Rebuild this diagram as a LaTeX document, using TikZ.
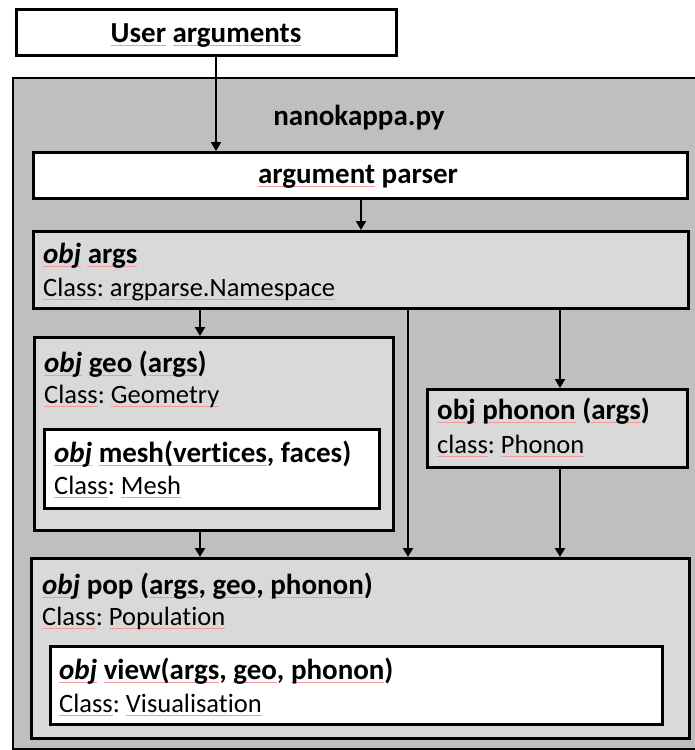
\documentclass[tikz,border=0pt]{standalone}
\usepackage{fontspec}
\setmainfont{Carlito}[Ligatures=NoCommon]
\usetikzlibrary{arrows.meta}
\frenchspacing
\definecolor{outergray}{HTML}{BFBFBF}
\definecolor{innergray}{HTML}{D9D9D9}
\definecolor{squig}{HTML}{F29A9A}
\tikzset{
  box/.style={draw=black, line width=2.8pt, inner sep=0pt, anchor=north west},
  whitebox/.style={box, fill=white},
  graybox/.style={box, fill=innergray},
  title/.style={anchor=base west, inner sep=0pt, font=\fontsize{29}{34}\selectfont\bfseries},
  ctitle/.style={title, anchor=base},
  classline/.style={anchor=base west, inner sep=0pt, font=\fontsize{26.5}{31}\selectfont},
  flow/.style={draw=black, line width=2.8pt, -{Triangle[length=9pt,width=10pt]}},
}
% thin proofing underline beneath a word
\newsavebox{\spellbox}
\newcommand{\spellmark}[1]{\sbox\spellbox{#1}\rlap{\color{squig}\rule[-4pt]{\wd\spellbox}{0.8pt}}\usebox\spellbox}
\newcommand{\ob}{\spellmark{\textit{obj}}}
\begin{document}
\begin{tikzpicture}[x=1pt, y=-1pt]
  \useasboundingbox (0,0) rectangle (695,750);

  % external input
  \node[whitebox, minimum width=380pt, minimum height=46pt] (ua) at (15,8) {};
  \node[ctitle] (uatext) at (206,42) {\spellmark{User} \spellmark{arguments}};

  % script frame
  \node[box, fill=outergray, line width=2.2pt, minimum width=700pt, minimum height=671pt] (frame) at (12,77) {};
  \node[ctitle] (frametext) at (359,125) {nanokappa.py};

  % argument parser
  \node[whitebox, minimum width=654pt, minimum height=46pt] (ap) at (32,151) {};
  \node[ctitle] (aptext) at (358,183) {\spellmark{argument} parser};

  % args object
  \node[graybox, minimum width=655pt, minimum height=77pt] (args) at (32,230) {};
  \node[title] (argst) at (43,263) {\ob{} \spellmark{args}};
  \node[classline] (argsc) at (43,296) {\spellmark{Class}: \spellmark{argparse.Namespace}};

  % geometry object with its mesh
  \node[graybox, minimum width=359pt, minimum height=193pt] (geo) at (33,336) {};
  \node[title] (geot) at (44,372) {\ob{} \spellmark{geo} (\spellmark{args})};
  \node[classline] (geoc) at (44,403) {\spellmark{Class}: \spellmark{Geometry}};
  \node[whitebox, minimum width=335pt, minimum height=79pt] (mesh) at (43,428) {};
  \node[title] (mesht) at (54,462) {\ob{} \spellmark{mesh(vertices}, faces)};
  \node[classline] (meshc) at (54,494) {\spellmark{Class}: \spellmark{Mesh}};

  % phonon object
  \node[graybox, minimum width=260pt, minimum height=78pt] (phon) at (426,388) {};
  \node[title] (phont) at (437,419) {\spellmark{obj} \spellmark{phonon} (\spellmark{args})};
  \node[classline] (phonc) at (437,453) {\spellmark{class}: \spellmark{Phonon}};

  % population object with its view
  \node[graybox, minimum width=658pt, minimum height=180pt] (pop) at (30,557) {};
  \node[title] (popt) at (42,594) {\ob{} pop (\spellmark{args}, \spellmark{geo}, \spellmark{phonon})};
  \node[classline] (popc) at (42,625) {\spellmark{Class}: \spellmark{Population}};
  \node[whitebox, minimum width=612pt, minimum height=78pt] (view) at (49,645) {};
  \node[title] (viewt) at (59,679) {\ob{} \spellmark{view(args}, \spellmark{geo}, \spellmark{phonon})};
  \node[classline] (viewc) at (59,712) {\spellmark{Class}: \spellmark{Visualisation}};

  % data flow
  \draw[flow] (ua.south -| 216,0) -- (ap.north -| 216,0);
  \draw[flow] (ap.south -| 361,0) -- (args.north -| 361,0);
  \draw[flow] (args.south -| 200,0) -- (geo.north -| 200,0);
  \draw[flow] (args.south -| 408,0) -- (pop.north -| 408,0);
  \draw[flow] (args.south -| 560,0) -- (phon.north -| 560,0);
  \draw[flow] (geo.south -| 200,0) -- (pop.north -| 200,0);
  \draw[flow] (phon.south -| 560,0) -- (pop.north -| 560,0);
\end{tikzpicture}
\end{document}
